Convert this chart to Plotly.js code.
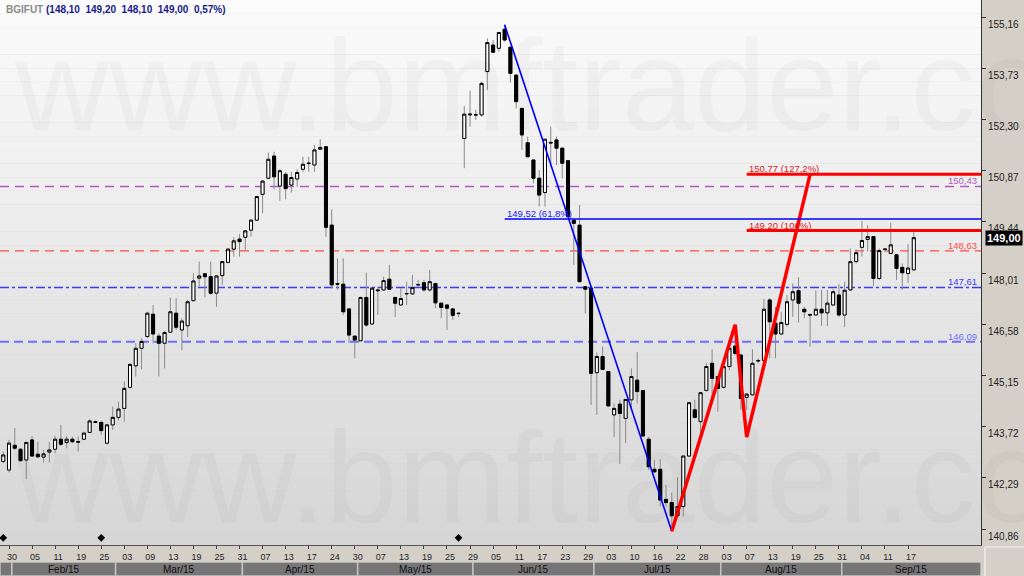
<!DOCTYPE html>
<html><head><meta charset="utf-8">
<script src="https://cdn.plot.ly/plotly-3.0.1.min.js"></script>
<style>html,body{margin:0;padding:0;background:#d4d0c8;overflow:hidden;} #chart{width:1024px;height:576px;}</style>
</head><body><div id="chart"></div>
<script>
// ---- data (index 0 = 30 Jan 2015, one step per trading day) ----
const firstIndex = -1;
const openP = [142.75,142.51,143.20,143.09,142.79,143.35,142.95,142.87,143.01,143.09,143.37,143.28,143.37,143.30,143.37,143.56,143.86,143.84,143.26,143.77,143.98,144.23,144.82,145.42,145.91,146.24,146.86,146.25,146.05,146.36,146.89,146.42,146.54,147.24,147.87,147.99,147.91,147.45,147.94,148.31,148.68,148.96,149.01,149.21,149.49,150.21,150.66,151.28,150.44,150.77,150.47,150.64,150.91,151.07,151.03,151.47,151.54,149.35,147.72,147.70,147.01,146.25,146.12,147.33,146.59,147.54,147.54,147.84,147.33,147.12,147.43,147.43,147.68,147.74,147.54,147.72,147.17,147.12,147.01,146.89,151.77,152.43,152.43,152.43,153.64,154.38,154.29,154.82,154.32,153.54,152.61,151.65,151.17,150.66,150.26,151.64,151.73,151.50,151.15,149.49,149.35,147.63,147.59,145.23,145.68,145.26,144.05,144.35,143.95,144.47,145.02,144.73,143.37,142.53,142.53,141.69,141.60,141.23,141.49,142.90,144.19,143.86,144.73,145.49,145.12,144.82,145.40,145.97,145.72,144.54,144.61,145.57,145.57,147.26,146.61,146.31,146.58,147.26,147.52,147.00,146.85,146.84,147.00,146.90,147.12,147.40,146.84,147.54,148.33,148.73,148.95,149.03,147.86,148.67,148.56,148.52,148.17,148.00,148.10];
const highP = [143.02,143.35,143.68,143.12,143.30,143.46,143.30,143.07,143.30,143.46,143.77,143.46,143.44,143.44,143.58,143.93,143.89,143.86,143.79,144.28,144.42,144.98,145.49,146.05,146.19,146.93,147.12,146.33,146.40,147.33,147.31,146.75,147.26,148.01,148.33,148.01,148.33,147.96,148.35,148.70,149.01,149.10,149.21,149.51,150.16,150.61,151.38,151.40,150.91,150.84,150.84,150.91,151.26,151.26,151.59,151.75,151.56,149.79,148.42,148.42,147.01,146.25,147.35,148.02,147.59,147.63,147.91,148.24,147.35,147.59,147.77,147.96,147.82,147.82,148.10,147.72,147.17,147.12,147.01,146.91,152.68,153.11,152.57,153.36,154.57,154.52,154.75,154.95,154.34,153.54,152.61,151.82,151.17,150.89,151.75,152.10,151.82,151.50,151.15,149.51,149.91,147.63,147.59,145.79,145.96,145.26,144.37,144.47,144.48,145.35,145.81,144.73,143.44,142.79,142.81,142.09,141.88,142.31,142.90,144.39,144.47,144.67,145.49,145.88,145.14,145.44,145.94,146.33,145.75,144.65,145.88,145.63,147.28,147.31,147.07,146.93,147.40,147.72,147.90,147.07,146.89,147.52,147.54,147.54,147.56,147.70,147.77,148.70,148.67,149.47,149.35,149.05,148.70,148.70,149.42,148.55,148.28,148.82,149.20];
const lowP = [142.70,142.44,143.07,142.75,142.25,142.88,142.84,142.72,142.72,142.98,143.18,143.12,143.26,143.02,143.35,143.56,143.82,143.49,143.21,143.63,143.89,143.86,144.79,145.12,145.32,146.19,146.05,145.12,145.35,146.35,146.42,145.85,146.22,147.24,147.63,147.33,147.40,147.07,147.68,148.28,148.47,148.47,148.66,149.03,149.48,149.68,150.63,150.35,150.03,150.07,150.26,150.42,150.84,150.84,150.84,151.45,149.03,147.58,147.54,146.84,146.05,145.63,146.12,146.51,146.56,146.84,147.54,147.54,146.78,147.12,147.12,147.40,147.63,147.49,147.49,147.03,146.75,146.42,146.70,146.78,150.94,152.10,152.29,152.38,153.12,154.17,154.20,154.47,153.33,152.61,151.45,151.26,150.52,149.87,149.87,150.98,151.03,150.66,149.59,148.24,147.77,146.89,144.33,144.05,145.30,144.28,143.44,142.68,143.26,144.19,144.37,143.44,142.51,142.42,141.49,141.49,140.80,141.21,141.21,142.88,143.95,143.44,144.70,144.47,144.14,144.79,145.30,145.72,144.19,144.19,144.58,145.49,145.30,145.63,145.63,146.29,146.51,146.79,146.63,146.75,145.96,146.83,146.53,146.53,147.09,146.79,146.50,147.52,148.28,148.47,148.61,147.65,147.82,148.60,148.54,147.82,147.54,147.74,148.10];
const closeP = [142.93,143.26,143.12,142.77,143.28,142.90,142.88,142.96,143.07,143.37,143.23,143.37,143.30,143.29,143.54,143.88,143.84,143.61,143.77,143.98,144.21,144.79,145.46,145.91,146.10,146.89,146.31,146.05,146.35,146.93,146.50,146.67,147.21,147.79,147.93,147.91,147.45,147.93,148.33,148.68,148.91,148.89,149.19,149.49,150.15,150.58,151.19,150.70,150.87,150.37,150.68,150.82,151.05,151.08,151.45,151.52,149.29,147.68,147.70,146.93,146.28,146.14,147.33,146.56,147.59,147.52,147.80,147.56,147.17,147.30,147.44,147.61,147.69,147.54,147.77,147.18,147.05,147.03,146.83,146.88,152.45,152.45,152.43,153.31,154.45,154.18,154.73,154.52,153.59,152.80,151.87,151.26,150.66,150.19,151.75,151.66,151.50,151.08,149.59,149.40,147.77,147.56,145.21,145.68,145.32,144.30,144.23,144.09,144.48,145.12,144.70,143.46,142.60,142.46,141.67,141.60,141.23,141.49,142.90,144.39,143.98,144.67,145.40,145.07,144.79,145.40,145.91,145.77,144.51,144.63,145.49,145.56,147.00,146.65,146.31,146.63,147.21,147.49,147.17,146.93,146.84,147.00,146.90,147.17,147.49,146.84,147.53,148.33,148.58,148.92,149.03,147.86,148.64,148.68,148.80,148.14,148.02,148.15,149.00];

const dayTickLabels = ['30','05','11','19','25','03','09','13','19','25','31','07','13','17','24','30','07','13','19','25','29','05','11','17','23','29','03','10','16','22','28','03','07','13','19','25','31','04','11','17'];
const dayTickStep = 4;
const monthLabels = ['', 'Feb/15','Mar/15','Apr/15','May/15','Jun/15','Jul/15','Aug/15','Sep/15'];
const monthStarts = [-1, 1, 19, 41, 61, 81, 102, 124, 145];

const priceTickValues = [140.86,142.29,143.72,145.15,146.58,148.01,149.44,150.87,152.30,153.73,155.16];
const priceTickLabels = ['140,86','142,29','143,72','145,15','146,58','148,01','149,44','150,87','152,30','153,73','155,16'];

const levelValues = [150.43, 148.63, 147.61, 146.09];
const levelLabels = ['150,43','148,63','147,61','146,09'];

const trendX = [86, 115];
const trendY = [154.95, 140.80];
const zigzagX = [115, 126, 128, 139];
const zigzagY = [140.80, 146.57, 143.43, 150.77];

const retraceStart = 86;
const retraceValues = [149.52];
const retraceLabels = ['149,52 (61,8%)'];
const projStart = 128;
const projValues = [149.20, 150.77];
const projLabels = ['149,20 (100%)', '150,77 (127,2%)'];

const eventIdx = [-1, 16, 78];

const symbol = 'BGIFUT';
const quote = ['148,10','149,20','148,10','149,00','0,57%'];
const lastPrice = 149.00;
const lastPriceLabel = '149,00';

// ---- geometry ----
const W = 1024, H = 576, R = 43, PLOT_H = 545;
const xRange = [-1.562, 168.66];
const yRange = [140.415, 155.639];
const FONT = 'Liberation Sans, Arial, sans-serif';

const idx = openP.map((_, k) => k + firstIndex);
const bodyHi = openP.map((o, k) => Math.max(o, closeP[k]));
const bodyLo = openP.map((o, k) => Math.min(o, closeP[k]));

const traces = [];
traces.push({type:'candlestick', x: idx, open: openP, high: highP, low: lowP, close: closeP,
  increasing:{line:{color:'#8a8a8a', width:1}, fillcolor:'#ffffff'},
  decreasing:{line:{color:'#8a8a8a', width:1}, fillcolor:'#000000'},
  whiskerwidth:0, hoverinfo:'skip', showlegend:false});
traces.push({type:'candlestick', x: idx, open: openP, high: bodyHi, low: bodyLo, close: closeP,
  increasing:{line:{color:'#000000', width:1}, fillcolor:'#ffffff'},
  decreasing:{line:{color:'#000000', width:1}, fillcolor:'#000000'},
  whiskerwidth:0, hoverinfo:'skip', showlegend:false});
traces.push({type:'scatter', mode:'lines', x: trendX, y: trendY, line:{color:'#0000ff', width:1.6}, hoverinfo:'skip', showlegend:false});
traces.push({type:'scatter', mode:'lines', x: zigzagX, y: zigzagY, line:{color:'#ff0000', width:3.5}, hoverinfo:'skip', showlegend:false});
traces.push({type:'scatter', mode:'markers', x: eventIdx, y: eventIdx.map(() => yRange[0] + 0.2),
  marker:{symbol:'diamond', size:6, color:'#000'}, hoverinfo:'skip', showlegend:false, cliponaxis:false});

const monthEnds = monthStarts.slice(1).map(s => s - 0.5).concat([xRange[1]]);
const monthBegins = monthStarts.map((s, k) => k === 0 ? xRange[0] : s - 0.5);
traces.push({type:'bar', xaxis:'x', yaxis:'y2', x: monthBegins.map((b, k) => (b + monthEnds[k]) / 2),
  y: monthBegins.map(() => 1), width: monthBegins.map((b, k) => monthEnds[k] - b), base: 0,
  marker:{color:'#767676', line:{color:'#c4c4c4', width:1.5}}, textposition:'none', hoverinfo:'skip', showlegend:false});

const shapes = [];
const NB = 40;
for (let k = 0; k < NB; k++) {
  const t = k / (NB - 1);
  const c = Math.round(251 - t * 37);
  const y0 = 1 - (k / NB) * (PLOT_H / H), y1 = 1 - ((k + 1) / NB) * (PLOT_H / H);
  shapes.push({type:'rect', xref:'paper', yref:'paper', x0:0, x1:1, y0:y1, y1:y0, fillcolor:`rgb(${c},${c},${c})`, line:{width:0}, layer:'below'});
}
shapes.push({type:'rect', xref:'paper', yref:'paper', x0:1.004, x1:1 + (R + 2) / (W - R), y0:-0.01, y1:(H - PLOT_H - 2) / H, fillcolor:'rgba(0,0,0,0)', line:{color:'#f4f4f4', width:1.2}, layer:'above'});

const levelStyles = [
  {color:'#b257c4', width:1.4, dash:'9px,6px'},
  {color:'#ff4a4a', width:1.4, dash:'9px,6px'},
  {color:'#3c3cff', width:1.4, dash:'9px,3px,3px,3px'},
  {color:'#6f6fff', width:2, dash:'9px,5px'}
];
levelValues.forEach((v, k) => {
  shapes.push({type:'line', xref:'paper', yref:'y', x0:0, x1:1, y0:v, y1:v, line:levelStyles[k], layer:'below'});
});
retraceValues.forEach(v => shapes.push({type:'line', xref:'x', yref:'y', x0:retraceStart, x1:xRange[1], y0:v, y1:v, line:{color:'#0000ff', width:1.6}}));
projValues.forEach(v => shapes.push({type:'line', xref:'x', yref:'y', x0:projStart, x1:xRange[1], y0:v, y1:v, line:{color:'#ff0000', width:3}}));

const annotations = [];
['www.bmftrader.com','www.bmftrader.com'].forEach((t, k) => annotations.push({xref:'paper', yref:'paper', x:0.012, y: k === 0 ? 1 - 10 / H : 1 - 402 / H,
  xanchor:'left', yanchor:'top', showarrow:false, text:t, font:{family:FONT, size:130, color:'rgba(0,0,0,0.028)'}}));
annotations.push({xref:'paper', yref:'paper', x:0.004, y:1 - 2 / H, xanchor:'left', yanchor:'top', showarrow:false,
  text:`<span style="color:#8a8a8a">${symbol}</span> <span style="color:#1a1a8a">(${quote.join('  ')})</span>`,
  font:{family:FONT, size:10, color:'#1a1a8a', weight:'bold'}});
levelValues.forEach((v, k) => annotations.push({xref:'paper', yref:'y', x:0.998, y:v, xanchor:'right', yanchor:'bottom', showarrow:false,
  text:levelLabels[k], font:{family:FONT, size:9.5, color:levelStyles[k].color}, yshift:-2}));
retraceValues.forEach((v, k) => annotations.push({xref:'x', yref:'y', x:retraceStart, y:v, xanchor:'left', yanchor:'bottom', showarrow:false,
  text:retraceLabels[k], font:{family:FONT, size:9.5, color:'#2020ff'}, yshift:-2}));
projValues.forEach((v, k) => annotations.push({xref:'x', yref:'y', x:projStart, y:v, xanchor:'left', yanchor:'bottom', showarrow:false,
  text:projLabels[k], font:{family:FONT, size:9.5, color:'#e02020'}, yshift:-2}));
annotations.push({xref:'paper', yref:'y', x:1, y:lastPrice, xanchor:'left', yanchor:'middle', xshift:4, showarrow:false,
  text:`<b>${lastPriceLabel}</b>`, font:{family:FONT, size:11, color:'#ffffff'}, bgcolor:'#000000', borderpad:1});
monthLabels.forEach((m, k) => { if (m) annotations.push({xref:'x', yref:'y2', x:(monthBegins[k] + monthEnds[k]) / 2, y:0.5, showarrow:false,
  text:m, font:{family:FONT, size:10, color:'#111111'}, xanchor:'center', yanchor:'middle'}); });

const layout = {
  width: W, height: H,
  margin:{l:0, r:R, t:0, b:0, pad:0},
  paper_bgcolor:'#d4d0c8', plot_bgcolor:'rgba(0,0,0,0)',
  showlegend:false, boxgap:0.25, boxmode:'overlay', bargap:0,
  xaxis:{range:xRange, tickmode:'array', tickvals: dayTickLabels.map((_, k) => k * dayTickStep), ticktext: dayTickLabels,
    ticks:'outside', ticklen:3, tickcolor:'#444', showline:true, linecolor:'#555', linewidth:1, showgrid:false, zeroline:false,
    rangeslider:{visible:false}, tickfont:{family:FONT, size:9, color:'#222'}, anchor:'y', fixedrange:true, ticklabelshift:3},
  yaxis:{domain:[(H - PLOT_H) / H, 1], side:'right', range:yRange, tickmode:'array', tickvals:priceTickValues, ticktext:priceTickLabels,
    ticks:'outside', ticklen:4, tickcolor:'#333', showline:true, linecolor:'#333', linewidth:1, showgrid:false, zeroline:false,
    tickfont:{family:FONT, size:10, color:'#222'}, anchor:'x', fixedrange:true, ticklabelshift:7},
  yaxis2:{domain:[0, 14 / H], range:[0, 1], visible:false, anchor:'x', fixedrange:true},
  shapes, annotations
};
Plotly.newPlot('chart', traces, layout, {staticPlot:true, displayModeBar:false});
</script>
</body></html>
